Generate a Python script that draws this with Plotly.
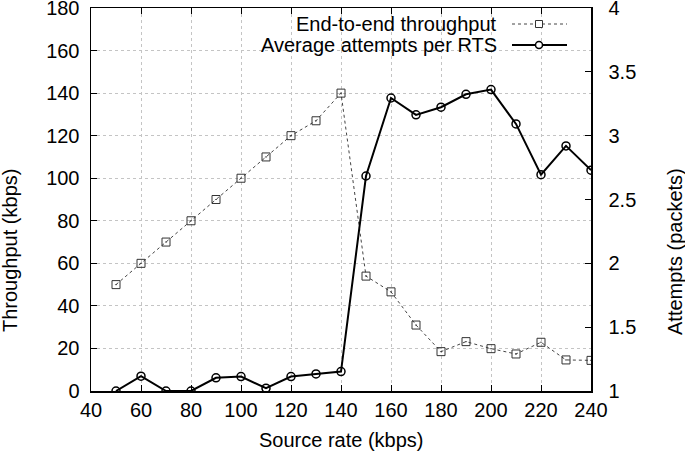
import plotly.graph_objects as go

source_rate = [50, 60, 70, 80, 90, 100, 110, 120, 130, 140, 150, 160, 170, 180, 190, 200, 210, 220, 230, 240]
throughput = [50, 60, 70, 80, 90, 100, 110, 120, 127, 140, 54, 46.6, 31, 18.5, 23.2, 19.9, 17.4, 22.9, 14.6, 14.4]
attempts = [1.0, 1.116, 1.0, 1.0, 1.103, 1.113, 1.022, 1.113, 1.134, 1.152, 2.684, 3.295, 3.163, 3.223, 3.324, 3.361, 3.092, 2.694, 2.920, 2.730]

x_ticks = [40, 60, 80, 100, 120, 140, 160, 180, 200, 220, 240]
y_ticks = [0, 20, 40, 60, 80, 100, 120, 140, 160, 180]
y2_ticks = [1, 1.5, 2, 2.5, 3, 3.5, 4]
y2_labels = ["1", "1.5", "2", "2.5", "3", "3.5", "4"]

names = ["End-to-end throughput", "Average attempts per RTS"]
x_title = "Source rate (kbps)"
y_title = "Throughput (kbps)"
y2_title = "Attempts (packets)"

FONT = "Liberation Sans, Arial, Helvetica, sans-serif"
FS = 20

fig = go.Figure()
fig.add_trace(go.Scatter(
    x=source_rate, y=throughput, mode="lines+markers", name=names[0],
    line=dict(color="#444444", width=1, dash="dot"),
    marker=dict(symbol="square-open-dot", size=8, color="#333333", line=dict(width=1)),
    showlegend=False))
fig.add_trace(go.Scatter(
    x=source_rate, y=attempts, mode="lines+markers", name=names[1], yaxis="y2",
    line=dict(color="black", width=2),
    marker=dict(symbol="circle-open", size=8, color="black", line=dict(width=1.5)),
    showlegend=False))

L, R, T, B = 91, 94, 8, 62
W = 685 - L - R
H = 453 - T - B

def px(xp):
    return (xp - L) / W

def py(yp):
    return (453 - B - yp) / H

shapes = []
shapes.append(dict(type="rect", xref="paper", yref="paper", x0=px(207), x1=px(580), y0=py(55), y1=1.0,
                   fillcolor="white", line=dict(width=0), layer="between"))
shapes.append(dict(type="line", xref="paper", yref="paper", x0=px(512), x1=px(567), y0=py(24), y1=py(24),
                   line=dict(color="#444444", width=1, dash="dot")))
shapes.append(dict(type="line", xref="paper", yref="paper", x0=px(512), x1=px(567), y0=py(45), y1=py(45),
                   line=dict(color="black", width=2)))
s = 3.5
shapes.append(dict(type="rect", xref="paper", yref="paper", x0=px(539 - s), x1=px(539 + s), y0=py(24 + s), y1=py(24 - s),
                   fillcolor="white", line=dict(color="#333333", width=1)))
shapes.append(dict(type="circle", xref="paper", yref="paper", x0=px(539 - s), x1=px(539 + s), y0=py(45 + s), y1=py(45 - s),
                   fillcolor="white", line=dict(color="black", width=1.5)))

annotations = [
    dict(text=names[0], xref="paper", yref="paper", x=px(499), y=py(24), xanchor="right", yanchor="middle",
         showarrow=False, font=dict(family=FONT, size=FS, color="black")),
    dict(text=names[1], xref="paper", yref="paper", x=px(499), y=py(45), xanchor="right", yanchor="middle",
         showarrow=False, font=dict(family=FONT, size=FS, color="black")),
    dict(text=x_title, xref="paper", yref="paper", x=0.5, y=py(440), xanchor="center", yanchor="middle",
         showarrow=False, font=dict(family=FONT, size=FS, color="black")),
    dict(text=y_title, xref="paper", yref="paper", x=px(10), y=py(251), xanchor="center", yanchor="middle",
         textangle=-90, showarrow=False, font=dict(family=FONT, size=FS, color="black")),
    dict(text=y2_title, xref="paper", yref="paper", x=px(675), y=py(252), xanchor="center", yanchor="middle",
         textangle=-90, showarrow=False, font=dict(family=FONT, size=FS, color="black")),
]

axis_common = dict(ticks="inside", ticklen=6, tickwidth=1, tickcolor="black",
                   showline=True, linecolor="black", linewidth=1.5, zeroline=False,
                   ticklabeloverflow="allow", automargin=False,
                   tickfont=dict(family=FONT, size=FS, color="black"))

GRID = "#c4c4c4"

fig.update_layout(
    width=685, height=453,
    margin=dict(l=L, r=R, t=T, b=B, pad=0, autoexpand=False),
    plot_bgcolor="white", paper_bgcolor="white",
    font=dict(family=FONT, size=FS, color="black"),
    xaxis=dict(range=[40, 240], tickvals=x_ticks, mirror="ticks",
               showgrid=True, gridcolor=GRID, griddash="dot", gridwidth=1, **axis_common),
    yaxis=dict(range=[0, 180], tickvals=y_ticks,
               showgrid=True, gridcolor=GRID, griddash="dot", gridwidth=1,
               ticklabelstandoff=6, **axis_common),
    yaxis2=dict(range=[1, 4], tickvals=y2_ticks, ticktext=y2_labels, overlaying="y", side="right",
                showgrid=False, ticklabelstandoff=12, **axis_common),
    shapes=shapes,
    annotations=annotations,
)

fig.write_html("out.html", config={"displayModeBar": False, "staticPlot": True},
               post_script="document.body.style.margin='0';document.body.style.overflow='hidden';")
